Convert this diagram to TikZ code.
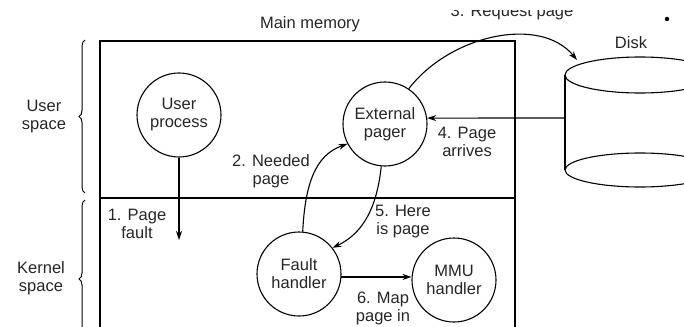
\documentclass[tikz,border=0pt]{standalone}
\usepackage{fontspec}
\setmainfont{Liberation Sans}
\usetikzlibrary{arrows.meta,decorations.pathreplacing}
\begin{document}
\begin{tikzpicture}[x=1pt,y=-1pt,
  line width=1.1pt,
  every node/.style={font=\fontsize{16.5}{18}\selectfont, align=center, inner sep=0pt, text=black!85},
  proc/.style={draw, circle, minimum size=84pt},
  arr/.style={-{Stealth[length=9pt,width=6pt]}},
  brc/.style={decorate, decoration={brace, amplitude=6pt}, line width=1pt}]
\useasboundingbox (0,0) rectangle (684,326);
\clip (0,0) rectangle (684,326);
% main memory box
\draw (100,41) rectangle (515,345);
\draw (100,198) -- (515,198);
\node (mm) at (310,24) {Main memory};
% braces
\draw[brc] (85,193) -- (85,40);
\draw[brc] (85,358) -- (85,200);
\node (us) at (44,117) {User\\space};
\node (ks) at (41,278) {Kernel\\space};
% processes
\node[proc] (up) at (179,115) {User\\process};
\node[proc] (ep) at (385,124) {External\\pager};
\node[proc] (fh) at (299,274) {Fault\\handler};
\node[proc] (mmu) at (454,280) {MMU\\handler};
% disk
\draw (565,75) -- (565,170);
\draw (640,75) ellipse [x radius=75, y radius=18];
\draw (640,170) ellipse [x radius=75, y radius=17];
\node (dk) at (631,43) {Disk};
\coordinate (disktop) at (577,60);
\coordinate (diskleft) at (565,118);
\coordinate (pf) at (179,240);
% dot
\fill (667,19) circle [radius=2.2];
% arrows
\draw[arr] (up.south) -- (pf);
\node (l1) at (137,224) {1. Page\\fault};
\draw[arr] (fh.85) .. controls (305,185) and (315,155) .. (ep.208);
\node (l2) at (271,171) {2. Needed\\page};
\draw[arr] (ep.56) .. controls (450,35) and (540,15) .. (disktop);
\node[anchor=base] (l3) at (512,17) {3. Request page};
\draw[arr] (diskleft) -- (ep.8);
\node (l4) at (467,142) {4. Page\\arrives};
\draw[arr] (ep.265) .. controls (378,195) and (370,230) .. (fh.38);
\node (l5) at (403,222) {5. Here\\is page};
\draw[arr] (fh.-4) -- (mmu.west |- fh.-4);
\node (l6) at (383,308) {6. Map\\page in};
% top edge of scan cuts label 3
\fill[white] (430,-5) rectangle (600,10);
\end{tikzpicture}
\end{document}
